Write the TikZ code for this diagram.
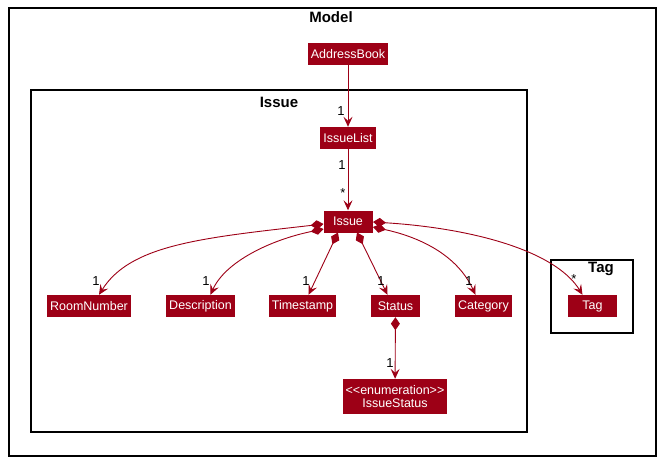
\documentclass[tikz,border=0pt]{standalone}
\usepackage{fontspec}
\setmainfont{Liberation Sans}
\usetikzlibrary{arrows.meta}
\definecolor{umlred}{RGB}{157,0,22}

\begin{document}
\begin{tikzpicture}[x=1pt,y=-1pt,
    cls/.style={fill=umlred,text=white,font=\fontsize{12.5}{14}\selectfont,
        minimum height=22pt,minimum width=49pt,inner xsep=3pt,inner ysep=2pt},
    frame/.style={draw=black,line width=1.2pt},
    title/.style={font=\fontsize{15}{17}\selectfont\bfseries},
    mult/.style={font=\fontsize{13}{15}\selectfont,inner sep=0pt},
    assoc/.style={draw=umlred,line width=0.9pt,-{Stealth[length=10pt,width=9pt,inset=4pt]}},
    comp/.style={draw=umlred,line width=0.9pt,{Diamond[length=13pt,width=9pt]}-{Stealth[length=10pt,width=9pt,inset=4pt]}}]
    \useasboundingbox (0,0) rectangle (662,461);

    % Frames
    \draw[frame] (9,8) rectangle (656,456);
    \node[title] (modelT) at (331,17) {Model};
    \draw[frame] (31,90) rectangle (527,432);
    \node[title] (issueT) at (279,102) {Issue};
    \draw[frame] (551,260) rectangle (633,333);
    \node[title] (tagT) at (601,269) {Tag};

    % Classes
    \node[cls] (addr) at (348,54) {AddressBook};
    \node[cls] (ilist) at (348,138) {IssueList};
    \node[cls] (issue) at (348,221.5) {Issue};
    \node[cls] (room) at (89,306) {RoomNumber};
    \node[cls] (desc) at (200.5,306) {Description};
    \node[cls] (time) at (302.5,306) {Timestamp};
    \node[cls] (status) at (395.5,306) {Status};
    \node[cls] (cat) at (483.5,306) {Category};
    \node[cls] (tag) at (592.5,306) {Tag};
    \node[cls,align=center,minimum height=35pt,inner ysep=1pt,
        font=\fontsize{12.5}{13.5}\selectfont] (istat) at (395,396.5) {<{}<enumeration>{}>\\IssueStatus};

    % Associations
    \draw[assoc] (addr) -- (ilist);
    \node[mult] (m1) at (341,111) {1};
    \draw[assoc] (ilist) -- (issue);
    \node[mult] (m2) at (342,165) {1};
    \node[mult] (m3) at (343,193) {*};

    % Compositions from Issue
    \coordinate (wA) at (323.5,224);
    \coordinate (wB) at (323.5,229);
    \coordinate (sA) at (338,232.5);
    \coordinate (sB) at (357,232.5);
    \coordinate (eA) at (373,222);
    \coordinate (eB) at (373,227);
    \draw[comp] (wA) .. controls (200,238) and (130,245) .. ([xshift=10pt]room.north);
    \draw[comp] (wB) .. controls (270,240) and (225,262) .. ([xshift=10pt]desc.north);
    \draw[comp] (sA) -- ([xshift=6pt]time.north);
    \draw[comp] (sB) -- ([xshift=-8pt]status.north);
    \draw[comp] (eB) .. controls (410,235) and (455,250) .. ([xshift=-8pt]cat.north);
    \draw[comp] (eA) .. controls (470,228) and (555,250) .. ([xshift=-10pt]tag.north);
    \draw[comp] (status) -- (istat);

    % Multiplicities
    \node[mult] (m4) at (96,281) {1};
    \node[mult] (m5) at (206,281) {1};
    \node[mult] (m6) at (306,281) {1};
    \node[mult] (m7) at (381,281) {1};
    \node[mult] (m8) at (469,281) {1};
    \node[mult] (m9) at (574,279) {*};
    \node[mult] (m10) at (390,363) {1};
\end{tikzpicture}
\end{document}
